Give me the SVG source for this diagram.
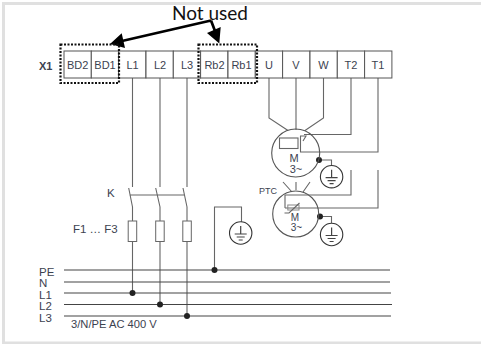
<svg xmlns="http://www.w3.org/2000/svg" width="481" height="344" viewBox="0 0 481 344">
<style>
.w{fill:none;stroke:#666;stroke-width:1.1}
.b{fill:none;stroke:#444;stroke-width:1.2}
.t{font-family:"Liberation Sans",Arial,sans-serif;font-size:11px;fill:#3c4250}
.c{text-anchor:middle}
.dot{fill:#222}
.dash{fill:none;stroke:#111;stroke-width:2.2;stroke-dasharray:2 1.5}
.g{fill:#fff;stroke:#333;stroke-width:1.1}
.a{stroke:#000;stroke-width:2.7;fill:none}
</style>
<defs>
<g id="earth"><circle class="g" r="11.200"/><path class="b" d="M0-7V1M-6 1H6M-4 4H4M-2 7H2"/></g>
<rect id="cell" width="27.300" height="27" fill="#fff" stroke="#555" stroke-width="1"/>
<rect id="fuse" width="8.500" height="20.500" fill="#fff" stroke="#666" stroke-width="1"/>
</defs>
<rect x="0" y="0" width="481" height="344" fill="#fff"/>
<path d="M3.500 344V3.500H481M3.500 343H481" fill="none" stroke="#e0e0e0" stroke-width="3"/>
<g id="connectors">
<path class="w" d="M132.500 78V187M160 78V187M187 78V187"/>
<path class="w" d="M128.700 188L132.500 207V293M155.700 188L160 207V304.500M183 188L187 207V316M129.500 195H184"/>
<path class="b" d="M64 270H390M64 282H390M64 293H391M64 304.500H392M64 316H391"/>
<path class="w" d="M214.500 270V207H241.500V222"/>
<path class="w" d="M269 78V118L288 130.500M296 78V130M323.500 78V118L305 130.500"/>
<path class="w" d="M351 78V134.500H304M378 78V152H300.500V136H306L303 141"/>
<path class="w" d="M351 170V195H285V208M378 170V208H285"/>
<path class="w" d="M283 182L292 192M296 182V190M310 182L303 192"/>
<path class="w" d="M319 160H331.500V166M320 216.500H331.500V223"/>
<g class="dot"><circle cx="132.500" cy="293" r="3"/><circle cx="160" cy="304.500" r="3"/><circle cx="187" cy="316" r="3"/><circle cx="214.500" cy="270" r="3"/><circle cx="319" cy="160" r="3"/><circle cx="320" cy="216.500" r="3"/></g>
<path class="a" d="M211 20.500L122 41M211 20.500L215 31"/>
<path d="M110 44L121.700 33.300L125 48ZM219.300 43.500L207 33L220.700 27Z" fill="#000"/>
</g>
<g id="X1"><text class="t" x="39" y="70" font-weight="bold">X1</text></g>
<g id="BD2"><use href="#cell" x="64" y="51"/><text class="t c" x="77.600" y="69">BD2</text></g>
<g id="BD1"><use href="#cell" x="91.300" y="51"/><text class="t c" x="105" y="69">BD1</text></g>
<g id="L1"><use href="#cell" x="118.600" y="51"/><text class="t c" x="132.500" y="69">L1</text></g>
<g id="L2"><use href="#cell" x="146" y="51"/><text class="t c" x="160" y="69">L2</text></g>
<g id="L3"><use href="#cell" x="173.300" y="51"/><text class="t c" x="187" y="69">L3</text></g>
<g id="Rb2"><use href="#cell" x="200.600" y="51"/><text class="t c" x="214.500" y="69">Rb2</text></g>
<g id="Rb1"><use href="#cell" x="228" y="51"/><text class="t c" x="241.500" y="69">Rb1</text></g>
<g id="U"><use href="#cell" x="255.300" y="51"/><text class="t c" x="269" y="69">U</text></g>
<g id="V"><use href="#cell" x="282.600" y="51"/><text class="t c" x="296" y="69">V</text></g>
<g id="W"><use href="#cell" x="310" y="51"/><text class="t c" x="323.500" y="69">W</text></g>
<g id="T2"><use href="#cell" x="337.300" y="51"/><text class="t c" x="351" y="69">T2</text></g>
<g id="T1"><use href="#cell" x="364.600" y="51"/><text class="t c" x="378" y="69">T1</text></g>
<g id="box-bd"><rect class="dash" x="60.500" y="44.500" width="58.500" height="38.500"/></g>
<g id="box-rb"><rect class="dash" x="198.500" y="44.500" width="58.500" height="38.500"/></g>
<g id="note"><text x="172" y="19.500" font-family="Lato,'Open Sans',sans-serif" font-size="19px" fill="#111">Not used</text></g>
<g id="K"><text class="t" x="107" y="197" style="font-size:11.500px">K</text></g>
<g id="F1F3"><text class="t" x="73" y="233" style="font-size:11.500px">F1 … F3</text></g>
<g id="fuses"><use href="#fuse" x="128.200" y="221"/><use href="#fuse" x="155.700" y="221"/><use href="#fuse" x="182.800" y="221"/></g>
<g id="earth1"><use href="#earth" x="240.700" y="233"/></g>
<g id="motor1"><circle cx="295.700" cy="153" r="24" fill="none" stroke="#555" stroke-width="1.100"/>
<rect x="279.500" y="138" width="18.500" height="10.500" fill="none" stroke="#666" stroke-width="1.100"/>
<text class="t c" x="294" y="161.500">M</text><text class="t c" x="296" y="172.500">3~</text></g>
<g id="earth2"><use href="#earth" x="331.600" y="176.700"/></g>
<g id="motor2"><circle cx="295.700" cy="214" r="23" fill="none" stroke="#555" stroke-width="1.100"/>
<rect x="287.800" y="205" width="11.200" height="5" fill="none" stroke="#888" stroke-width="1"/>
<path class="w" d="M284.500 213H289L299.500 203"/>
<text class="t c" x="295" y="220.500" style="font-size:10px">M</text><text class="t c" x="296.500" y="231" style="font-size:10px">3~</text></g>
<g id="earth3"><use href="#earth" x="331.600" y="234.500"/></g>
<g id="PTC"><text class="t" x="259" y="194" style="font-size:9px">PTC</text></g>
<g id="bus-labels">
<text class="t" x="39" y="276" style="font-size:11.500px">PE</text><text class="t" x="39" y="287" style="font-size:11.500px">N</text><text class="t" x="39" y="298.500" style="font-size:11.500px">L1</text><text class="t" x="39" y="310" style="font-size:11.500px">L2</text><text class="t" x="39" y="321.500" style="font-size:11.500px">L3</text>
<text class="t" x="71" y="328" style="font-size:11.200px">3/N/PE AC 400 V</text></g>
</svg>
